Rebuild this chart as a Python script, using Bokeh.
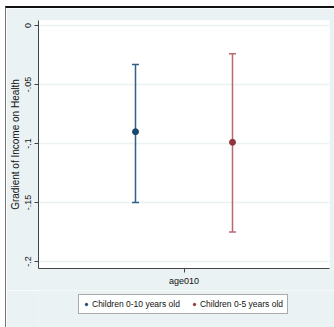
from bokeh.plotting import figure
from bokeh.layouts import column
from bokeh.models import (Whisker, ColumnDataSource, FixedTicker, Legend, LegendItem,
                          Range1d, TeeHead)
from bokeh.embed import file_html
from bokeh.resources import INLINE

# ---- data ----
series = ["Children 0-10 years old", "Children 0-5 years old"]
estimates = [-0.090, -0.099]
lower = [-0.150, -0.175]
upper = [-0.033, -0.024]
colors = ["#1a476f", "#90353b"]
bar_colors = ["#2f5f8a", "#b86a70"]
x_category = "age010"
y_ticks = [0, -0.05, -0.1, -0.15, -0.2]
y_tick_labels = ["0", "-.05", "-.1", "-.15", "-.2"]

BG = "#eaf2f3"
FONT = "Liberation Sans"
TXT = "#111111"
W = 328

p = figure(width=W, height=282, output_backend="svg", toolbar_location=None,
           x_range=Range1d(0, 1), y_range=Range1d(-0.20593, 0.00424),
           min_border_left=32, min_border_top=12, min_border_right=5, min_border_bottom=22)
p.background_fill_color = "white"
p.border_fill_color = BG
p.outline_line_color = None

n = len(series)
xs = [(i + 1) / (n + 1) for i in range(n)]

for i in range(n):
    src = ColumnDataSource(dict(x=[xs[i]], est=[estimates[i]], lo=[lower[i]], hi=[upper[i]]))
    w = Whisker(source=src, base="x", lower="lo", upper="hi", dimension="height",
                line_color=bar_colors[i], line_width=1.5,
                upper_head=TeeHead(size=7, line_color=bar_colors[i], line_width=1.5),
                lower_head=TeeHead(size=7, line_color=bar_colors[i], line_width=1.5))
    p.add_layout(w)
    p.scatter("x", "est", source=src, size=6, color=colors[i])

# y axis
p.yaxis.ticker = FixedTicker(ticks=y_ticks)
p.yaxis.major_label_overrides = {t: l for t, l in zip(y_ticks, y_tick_labels)}
p.yaxis.major_label_orientation = "vertical"
p.yaxis.axis_label = "Gradient of Income on Health"
p.yaxis.axis_label_text_font = FONT
p.yaxis.axis_label_text_font_style = "normal"
p.yaxis.axis_label_text_font_size = "10px"
p.yaxis.axis_label_text_color = TXT
p.yaxis.axis_label_standoff = 2
p.yaxis.major_label_text_font = FONT
p.yaxis.major_label_text_font_size = "9px"
p.yaxis.major_label_text_color = TXT
p.yaxis.major_label_standoff = 3
p.yaxis.minor_tick_line_color = None
p.yaxis.major_tick_out = 4
p.yaxis.major_tick_in = 0
p.yaxis.axis_line_color = "#444444"
p.yaxis.major_tick_line_color = "#444444"

# x axis
p.xaxis.ticker = FixedTicker(ticks=[0.5])
p.xaxis.major_label_overrides = {0.5: x_category}
p.xaxis.major_label_text_font = FONT
p.xaxis.major_label_text_font_size = "9px"
p.xaxis.major_label_text_color = TXT
p.xaxis.major_label_standoff = 3
p.xaxis.minor_tick_line_color = None
p.xaxis.major_tick_out = 4
p.xaxis.major_tick_in = 0
p.xaxis.axis_line_color = "#444444"
p.xaxis.major_tick_line_color = "#444444"

p.xgrid.grid_line_color = None
p.ygrid.grid_line_color = BG
p.ygrid.grid_line_width = 1.5
p.ygrid.ticker = FixedTicker(ticks=y_ticks)

# legend strip below the plot (its glyphs sit outside the strip's visible range)
lg = figure(width=W, height=37, output_backend="svg", toolbar_location=None,
            x_axis_type=None, y_axis_type=None, x_range=Range1d(0, 1), y_range=Range1d(0, 1),
            min_border=0)
lg.background_fill_color = BG
lg.border_fill_color = BG
lg.outline_line_color = None
lg.xgrid.grid_line_color = None
lg.ygrid.grid_line_color = None
items = []
for i in range(n):
    r = lg.scatter(x=[xs[i]], y=[estimates[i]], size=5, color=colors[i])
    items.append(LegendItem(label=series[i], renderers=[r]))
legend = Legend(items=items, orientation="horizontal", location=(40, 13),
                border_line_color="#555555", background_fill_color="white",
                label_text_font=FONT, label_text_font_size="8.5px", label_text_color=TXT,
                glyph_width=6, glyph_height=10, spacing=11, padding=4,
                label_standoff=3, margin=0)
lg.add_layout(legend, "center")

layout = column(p, lg, spacing=0)
layout.styles = {"border-top": "2px solid #111111", "border-left": "1px solid #777777",
                 "margin-top": "6px", "margin-left": "5px"}

open("out.html", "w").write(file_html(layout, INLINE))
